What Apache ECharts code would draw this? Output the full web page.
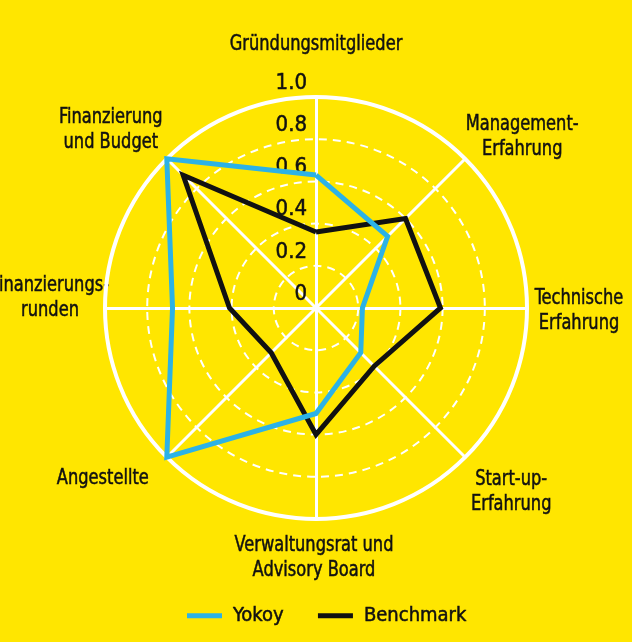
<!DOCTYPE html>
<html><head><meta charset="utf-8">
<script src="https://cdn.jsdelivr.net/npm/echarts@6/dist/echarts.min.js"></script>
<style>html,body{margin:0;padding:0;background:#ffe600;} #c{width:632px;height:642px;}</style>
</head><body><div id="c"></div>
<script>
// ---- data ----
const indicatorNames = ['Gründungsmitglieder', 'Finanzierung\nund Budget', 'Finanzierungs-\nrunden', 'Angestellte',
  'Verwaltungsrat und\nAdvisory Board', 'Start-up-\nErfahrung', 'Technische\nErfahrung', 'Management-\nErfahrung'];
const yokoy = [0.63, 1.0, 0.68, 1.0, 0.5, 0.3, 0.22, 0.48];
const benchmark = [0.36, 0.89, 0.41, 0.3, 0.6, 0.39, 0.59, 0.6];
const tickLabels = ['0', '0.2', '0.4', '0.6', '0.8', '1.0'];
const seriesNames = ['Yokoy', 'Benchmark'];

// ---- style / layout ----
const FONT_FAMILY = '"DejaVu Sans Condensed", "Liberation Sans Narrow", sans-serif';
const TEXT = '#111111';
const BLUE = '#2cb2e6';
const BLACK = '#111111';
const CX = 316, CY = 308, R = 211;
// label shift (px) from the end of each axis
const nameShift = [[0, -52], [-56, -29], [-55, -10], [-64, 21], [-2, 39], [46, 35], [52, 3], [57, -22]];

const indicators = indicatorNames.map((n, i) => {
  const o = { name: n, min: 0, max: 1 };
  if (i === 0) {
    o.axisLabel = { show: true, fontSize: 22, color: TEXT, fontFamily: FONT_FAMILY, margin: 9,
      textBorderColor: TEXT, textBorderWidth: 0.5,
      verticalAlign: 'bottom', padding: [0, 0, 3, 0],
      formatter: v => tickLabels[Math.round(v * 5)] };
  }
  return o;
});

const nameTexts = indicatorNames.map((n, i) => {
  const a = Math.PI / 2 + i * 2 * Math.PI / indicatorNames.length;
  return {
    type: 'text',
    x: CX + R * Math.cos(a) + nameShift[i][0],
    y: CY - R * Math.sin(a) + nameShift[i][1],
    scaleX: 0.86,
    style: { text: n, fill: TEXT, stroke: TEXT, lineWidth: 0.5,
      font: '21px ' + FONT_FAMILY, align: 'center', verticalAlign: 'middle',
      textAlign: 'center', textVerticalAlign: 'middle', lineHeight: 25 }
  };
});

const chart = echarts.init(document.getElementById('c'));
chart.setOption({
  backgroundColor: '#ffe600',
  animation: false,
  legend: {
    data: seriesNames,
    bottom: 11, left: 182,
    icon: 'rect', itemWidth: 35, itemHeight: 5, itemGap: 34,
    textStyle: { fontSize: 20, color: TEXT, fontFamily: FONT_FAMILY, padding: [0, 0, 0, 6],
      textBorderColor: TEXT, textBorderWidth: 0.5 }
  },
  graphic: nameTexts,
  radar: [{
    center: [CX, CY], radius: R, shape: 'circle', startAngle: 90,
    splitNumber: 5,
    indicator: indicators,
    axisName: { show: false },
    axisLine: { show: true, lineStyle: { color: '#ffffff', width: 3 } },
    axisTick: { show: false },
    axisLabel: { show: false },
    splitLine: { lineStyle: { color: '#ffffff', width: 2, type: [8, 6] } },
    splitArea: { show: false }
  }, {
    center: [CX, CY], radius: R, shape: 'circle', startAngle: 90,
    splitNumber: 1,
    indicator: indicatorNames.map(() => ({ name: '', min: 0, max: 1 })),
    axisName: { show: false },
    axisLine: { show: false },
    axisTick: { show: false },
    axisLabel: { show: false },
    splitLine: { lineStyle: { color: '#ffffff', width: 4 } },
    splitArea: { show: false }
  }],
  series: [{
    type: 'radar', radarIndex: 0, symbol: 'none', z: 5,
    data: [
      { name: seriesNames[1], value: benchmark,
        lineStyle: { color: BLACK, width: 5, join: 'miter' }, itemStyle: { color: BLACK } },
      { name: seriesNames[0], value: yokoy,
        lineStyle: { color: BLUE, width: 5, join: 'miter' }, itemStyle: { color: BLUE } }
    ]
  }]
});
</script></body></html>
